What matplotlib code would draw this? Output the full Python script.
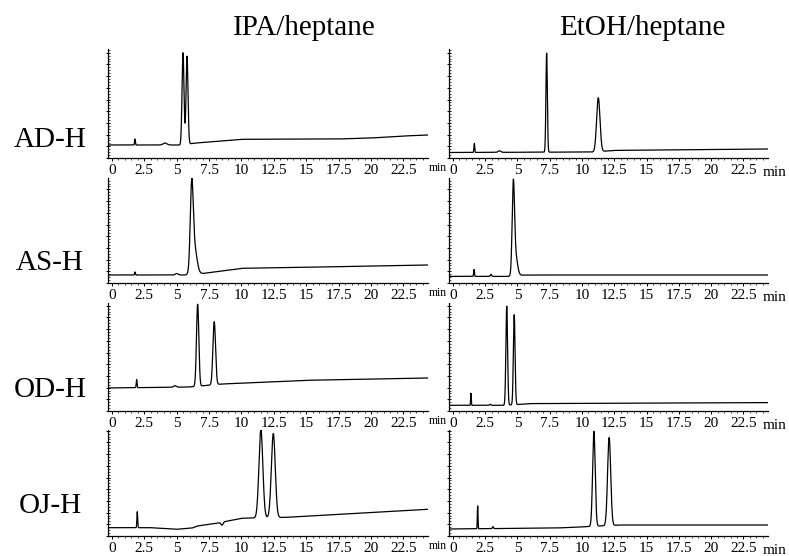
import numpy as np
import matplotlib
matplotlib.use("Agg")
import matplotlib.pyplot as plt
from matplotlib.ticker import MultipleLocator, AutoMinorLocator

plt.rcParams['font.family'] = ['Liberation Serif', 'DejaVu Serif']

# ---------------- data ----------------
columns = ["IPA/heptane", "EtOH/heptane"]
rows = ["AD-H", "AS-H", "OD-H", "OJ-H"]
xtick_values = [0, 2.5, 5, 7.5, 10, 12.5, 15, 17.5, 20, 22.5]
xtick_labels = ["0", "2.5", "5", "7.5", "10", "12.5", "15", "17.5", "20", "22.5"]

# peak tables: retention time (min), height (signal units), sigma (min)
# baseline: knot times (min) and levels (signal units)
ad_ipa_rt = [1.78, 4.1, 5.49, 5.80]
ad_ipa_h = [6, 2, 92, 88]
ad_ipa_w = [0.03, 0.15, 0.075, 0.075]
ad_ipa_bt = [-0.3, 5.3, 6.5, 10, 17.5, 20, 22.5, 24.4]
ad_ipa_bl = [13, 13, 15, 18.7, 19, 20, 22, 23]

ad_etoh_rt = [1.66, 3.6, 7.26, 11.26]
ad_etoh_h = [9, 1.5, 99, 54]
ad_etoh_w = [0.03, 0.1, 0.055, 0.13]
ad_etoh_bt = [-0.3, 11, 12.5, 24.4]
ad_etoh_bl = [5.5, 6, 7.6, 9]

as_ipa_rt = [1.78, 5.0, 6.16, 6.35]
as_ipa_h = [3, 1.5, 78, 28]
as_ipa_w = [0.03, 0.1, 0.11, 0.2]
as_ipa_bt = [-0.3, 5.8, 7.0, 10, 15, 20, 24.4]
as_ipa_bl = [8, 8, 9.5, 14.7, 15.7, 17, 18]

as_etoh_rt = [1.64, 2.95, 4.68, 4.85]
as_etoh_h = [7, 2, 86, 20]
as_etoh_w = [0.03, 0.05, 0.09, 0.15]
as_etoh_bt = [-0.3, 4.3, 5.5, 24.4]
as_etoh_bl = [6.6, 6.6, 8, 8]

od_ipa_rt = [1.91, 4.87, 6.62, 7.90]
od_ipa_h = [8, 1.5, 82, 63]
od_ipa_w = [0.03, 0.1, 0.09, 0.1]
od_ipa_bt = [-0.3, 6, 8.5, 15, 24.4]
od_ipa_bl = [23, 24, 27, 30.7, 33]

od_etoh_rt = [1.40, 2.9, 4.17, 4.75]
od_etoh_h = [12, 1, 99, 90]
od_etoh_w = [0.025, 0.05, 0.065, 0.065]
od_etoh_bt = [-0.3, 4, 6, 24.4]
od_etoh_bl = [5.7, 5.7, 7.4, 8.4]

oj_ipa_rt = [1.96, 8.5, 11.50, 12.46]
oj_ipa_h = [16, -3, 88, 84]
oj_ipa_w = [0.03, 0.08, 0.15, 0.15]
oj_ipa_bt = [-0.3, 3, 5, 6.2, 6.6, 8.3, 10, 10.8, 13.5, 24.4]
oj_ipa_bl = [8.3, 8.3, 6.7, 8, 10, 13.3, 17.7, 18, 18.7, 26.7]

oj_etoh_rt = [1.92, 3.1, 10.92, 12.10]
oj_etoh_h = [23, 2, 95, 88]
oj_etoh_w = [0.025, 0.04, 0.1, 0.12]
oj_etoh_bt = [-0.3, 8, 10, 10.5, 13, 24.4]
oj_etoh_bl = [7, 8, 9, 9.5, 11, 11]

panels = [
    [(ad_ipa_rt, ad_ipa_h, ad_ipa_w, ad_ipa_bt, ad_ipa_bl),
     (ad_etoh_rt, ad_etoh_h, ad_etoh_w, ad_etoh_bt, ad_etoh_bl)],
    [(as_ipa_rt, as_ipa_h, as_ipa_w, as_ipa_bt, as_ipa_bl),
     (as_etoh_rt, as_etoh_h, as_etoh_w, as_etoh_bt, as_etoh_bl)],
    [(od_ipa_rt, od_ipa_h, od_ipa_w, od_ipa_bt, od_ipa_bl),
     (od_etoh_rt, od_etoh_h, od_etoh_w, od_etoh_bt, od_etoh_bl)],
    [(oj_ipa_rt, oj_ipa_h, oj_ipa_w, oj_ipa_bt, oj_ipa_bl),
     (oj_etoh_rt, oj_etoh_h, oj_etoh_w, oj_etoh_bt, oj_etoh_bl)],
]

# ---------------- layout ----------------
W, H = 789, 556
fig = plt.figure(figsize=(W / 100, H / 100), dpi=100)

row_top = [49, 178, 303, 430]
row_bot = [158, 283, 411, 536]
col_left = [108, 449]
col_right = [428, 768]
col_title_x = [304, 642]
row_label_base = [147, 270, 397, 513]

t = np.linspace(-0.3, 24.4, 4000)

for r in range(4):
    for c in range(2):
        rt, hh, ww, bt, bl = panels[r][c]
        x0, x1 = col_left[c], col_right[c]
        y0, y1 = row_top[r], row_bot[r]
        ax = fig.add_axes([x0 / W, 1 - y1 / H, (x1 - x0) / W, (y1 - y0) / H])
        sig = np.interp(t, bt, bl)
        for p, h, s in zip(rt, hh, ww):
            sig = sig + h * np.exp(-0.5 * ((t - p) / s) ** 2)
        ax.plot(t, sig, color='black', lw=0.9)
        ax.set_xlim(-0.3, 24.4)
        ax.set_ylim(0, y1 - y0)
        for sp in ['top', 'right']:
            ax.spines[sp].set_visible(False)
        for sp in ['left', 'bottom']:
            ax.spines[sp].set_linewidth(0.9)
        ax.set_xticks(xtick_values)
        ax.set_xticklabels(xtick_labels)
        ax.xaxis.set_minor_locator(MultipleLocator(0.5))
        ax.tick_params(axis='x', which='major', length=2.5, width=0.7, direction='out',
                       labelsize=11, pad=2)
        ax.tick_params(axis='x', which='minor', length=1.5, width=0.5, direction='out')
        ax.yaxis.set_major_locator(MultipleLocator(11.7))
        ax.yaxis.set_minor_locator(AutoMinorLocator(4))
        ax.tick_params(axis='y', which='major', length=3, width=0.7, direction='inout',
                       labelleft=False)
        ax.tick_params(axis='y', which='minor', length=1.5, width=0.5, direction='in')
        if c == 0:
            fig.text((x1 + 10) / W, 1 - (y1 + 13) / H, 'min', ha='center',
                     va='baseline', fontsize=8.5)
        else:
            fig.text((x1 + 7) / W, 1 - (y1 + 18) / H, 'min', ha='center',
                     va='baseline', fontsize=11)

for c in range(2):
    fig.text(col_title_x[c] / W, 1 - 35 / H, columns[c], ha='center',
             va='baseline', fontsize=21)
for r in range(4):
    fig.text(50 / W, 1 - row_label_base[r] / H, rows[r], ha='center',
             va='baseline', fontsize=21)

fig.savefig('out.png', dpi=100)
